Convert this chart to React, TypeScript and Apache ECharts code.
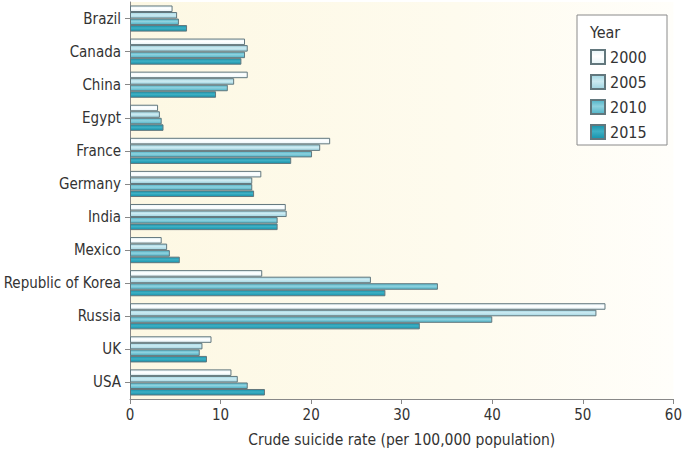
import React, { useEffect, useRef } from "react";
import * as echarts from "echarts";

const countries = ["Brazil", "Canada", "China", "Egypt", "France", "Germany", "India", "Mexico", "Republic of Korea", "Russia", "UK", "USA"];
const years = ["2000", "2005", "2010", "2015"];
const v2000 = [4.7, 12.7, 13.0, 3.1, 22.1, 14.5, 17.2, 3.5, 14.6, 52.5, 9.0, 11.2];
const v2005 = [5.2, 13.0, 11.5, 3.3, 21.0, 13.5, 17.3, 4.1, 26.6, 51.5, 8.0, 11.9];
const v2010 = [5.4, 12.7, 10.8, 3.5, 20.1, 13.5, 16.3, 4.4, 34.0, 40.0, 7.7, 13.0];
const v2015 = [6.3, 12.3, 9.5, 3.7, 17.8, 13.7, 16.3, 5.5, 28.2, 32.0, 8.5, 14.9];
const xTicks = [0, 10, 20, 30, 40, 50, 60];
const xTitle = "Crude suicide rate (per 100,000 population)";

const palette = [
  ["#ffffff", "#e6f4f8"],
  ["#cdebf2", "#9fd5e2"],
  ["#8fd2df", "#4fb3c7"],
  ["#3fb0c4", "#1592ab"],
];

const FONT = "'DejaVu Sans Condensed', 'DejaVu Sans', sans-serif";

export default function App() {
  const ref = useRef<HTMLDivElement>(null);
  useEffect(() => {
    if (!ref.current) return;
    const chart = echarts.init(ref.current, null, { renderer: "svg" });
    const seriesData = [v2000, v2005, v2010, v2015];
    const grad = (c: string[]) =>
      new echarts.graphic.LinearGradient(0, 0, 0, 1, [
        { offset: 0, color: c[1] },
        { offset: 0.45, color: c[0] },
        { offset: 1, color: c[1] },
      ]);
    chart.setOption({
      animation: false,
      backgroundColor: "#ffffff",
      textStyle: { fontFamily: FONT },
      grid: {
        left: 130,
        right: 7,
        top: 2,
        bottom: 55,
        show: true,
        borderWidth: 0,
        backgroundColor: new echarts.graphic.LinearGradient(0, 0, 1, 0, [
          { offset: 0, color: "#fdf8e3" },
          { offset: 0.6, color: "#fefbee" },
          { offset: 1, color: "#fffefa" },
        ]),
      },
      graphic: [
        {
          type: "rect",
          z: 1,
          shape: { x: 577, y: 15, width: 90, height: 130 },
          style: { fill: "#ffffff", stroke: "#8a8a8a", lineWidth: 1 },
        },
        {
          type: "text",
          z: 2,
          x: 590,
          y: 24,
          style: { text: "Year", fontSize: 16, fill: "#333", fontFamily: FONT },
        },
      ],
      legend: {
        orient: "vertical",
        left: 585,
        top: 44,
        itemWidth: 14,
        itemHeight: 14,
        itemGap: 9,
        icon: "rect",
        textStyle: { fontSize: 16, color: "#333", fontFamily: FONT, lineHeight: 15 },
        data: years,
        z: 5,
      },
      xAxis: {
        type: "value",
        min: 0,
        max: 60,
        interval: 10,
        splitLine: { show: false },
        axisLine: { show: true, lineStyle: { color: "#888", width: 1 } },
        axisTick: { show: true, length: 5, lineStyle: { color: "#888" } },
        axisLabel: { fontSize: 15, color: "#333", margin: 8, formatter: (v: number) => (xTicks.includes(v) ? String(v) : "") },
        name: xTitle,
        nameLocation: "middle",
        nameGap: 33,
        nameTextStyle: { fontSize: 15.5, color: "#333" },
      },
      yAxis: {
        type: "category",
        data: countries,
        inverse: true,
        axisLine: { show: true, lineStyle: { color: "#888", width: 1 } },
        axisTick: { show: true, alignWithLabel: true, length: 5, lineStyle: { color: "#888" } },
        axisLabel: { fontSize: 15, color: "#333", margin: 9, interval: 0 },
      },
      series: years.map((y, i) => ({
        name: y,
        type: "bar",
        data: seriesData[i],
        barGap: "0%",
        barCategoryGap: "21%",
        itemStyle: {
          color: grad(palette[i]),
          borderColor: "#62777d",
          borderWidth: 1,
        },
      })),
    });
    return () => chart.dispose();
  }, []);
  return <div ref={ref} style={{ position: "fixed", left: 0, top: 0, width: 685, height: 454 }} />;
}
